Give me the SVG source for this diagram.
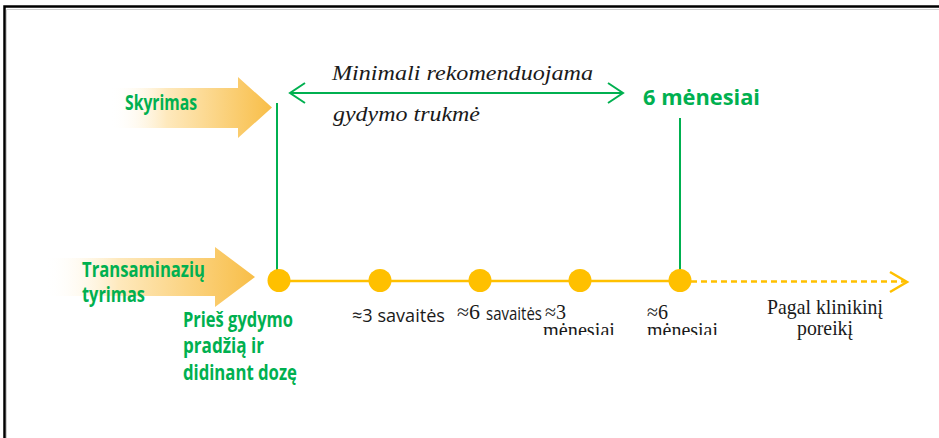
<svg xmlns="http://www.w3.org/2000/svg" width="939" height="438" viewBox="0 0 939 438">
  <style>
    .lbl-green { font-family: "Open Sans", "Noto Sans", sans-serif; font-weight: bold; font-size: 21.5px; fill: #00B050; }
    .lbl-sans { font-family: "Open Sans", "Noto Sans", sans-serif; font-size: 19px; fill: #1a1a1a; }
    .lbl-serif { font-family: "Liberation Serif", "Times New Roman", serif; font-size: 21px; fill: #1a1a1a; }
    .lbl-italic { font-family: "Liberation Serif", "Times New Roman", serif; font-style: italic; font-size: 22px; fill: #1a1a1a; }
    .green-line { stroke: #00B050; stroke-width: 2; fill: none; }
    .yellow-line { stroke: #FFC000; stroke-width: 2.5; fill: none; }
    .dot { fill: #FFC000; }
    .block-arrow { fill: url(#fadeArrow); }
  </style>
  <defs>
    <linearGradient id="fadeArrow" x1="0" y1="0" x2="1" y2="0">
      <stop offset="0" stop-color="#FFFFFF" stop-opacity="0"/>
      <stop offset="0.35" stop-color="#FEE9BD"/>
      <stop offset="1" stop-color="#F8BE48"/>
    </linearGradient>
    <!-- the month labels are cut off just below their x-height -->
    <clipPath id="cutBottom">
      <rect x="500" y="290" width="260" height="45"/>
    </clipPath>
  </defs>

  <rect width="939" height="438" fill="#FFFFFF"/>

  <!-- frame -->
  <path d="M4.5,438 V6.5 H939" fill="none" stroke="#000000" stroke-width="2.5"/>
  <path d="M6.5,438 V9.5 H939" fill="none" stroke="#CFCFCF" stroke-width="1"/>

  <!-- block arrow: Skyrimas -->
  <g id="skyrimas">
    <polygon class="block-arrow" points="110,88 238,88 238,77 272,107.5 238,138 238,128 110,128"/>
    <text class="lbl-green" x="125" y="110" textLength="72" lengthAdjust="spacingAndGlyphs">Skyrimas</text>
  </g>

  <!-- block arrow: Transaminaziu tyrimas -->
  <g id="transaminaziu">
    <polygon class="block-arrow" points="45,258 215,258 215,247 255,277 215,307 215,296 45,296"/>
    <text class="lbl-green" x="82" y="277" textLength="123" lengthAdjust="spacingAndGlyphs">Transaminazių</text>
    <text class="lbl-green" x="82" y="302" textLength="63" lengthAdjust="spacingAndGlyphs">tyrimas</text>
  </g>

  <!-- treatment duration label -->
  <g id="trukme">
    <text class="lbl-italic" x="332" y="80" textLength="261" lengthAdjust="spacingAndGlyphs">Minimali rekomenduojama</text>
    <text class="lbl-italic" x="333" y="121" textLength="147" lengthAdjust="spacingAndGlyphs">gydymo trukmė</text>
  </g>

  <g id="sesi-menesiai">
    <text class="lbl-green" x="643" y="105" textLength="117" lengthAdjust="spacingAndGlyphs">6 mėnesiai</text>
  </g>

  <!-- connectors -->
  <g id="connectors">
    <!-- duration arrow -->
    <line class="green-line" x1="290" y1="93" x2="623" y2="93"/>
    <polyline class="green-line" points="305,83 290,93 305,103"/>
    <polyline class="green-line" points="608,83 623,93 608,103"/>
    <!-- verticals down to the timeline -->
    <line class="green-line" x1="277" y1="103" x2="277" y2="280"/>
    <line class="green-line" x1="680" y1="118" x2="680" y2="280"/>
    <!-- timeline -->
    <line class="yellow-line" x1="279" y1="281" x2="680" y2="281"/>
    <line class="yellow-line" x1="691" y1="281.5" x2="905" y2="281.5" stroke-dasharray="6,4" stroke-width="2"/>
    <polyline class="yellow-line" points="890,272 907,282 890,292" stroke-width="2"/>
  </g>

  <!-- timeline points -->
  <g id="t0">
    <circle class="dot" cx="279" cy="280.5" r="11.5"/>
    <text class="lbl-green" x="183" y="327" textLength="110" lengthAdjust="spacingAndGlyphs">Prieš gydymo</text>
    <text class="lbl-green" x="183" y="353" textLength="81" lengthAdjust="spacingAndGlyphs">pradžią ir</text>
    <text class="lbl-green" x="183" y="380" textLength="114" lengthAdjust="spacingAndGlyphs">didinant dozę</text>
  </g>
  <g id="t3w">
    <circle class="dot" cx="380" cy="280.5" r="11.5"/>
    <text class="lbl-sans" x="352" y="322" textLength="93" lengthAdjust="spacingAndGlyphs">≈3 savaitės</text>
  </g>
  <g id="t6w">
    <circle class="dot" cx="480" cy="280.5" r="11.5"/>
    <text class="lbl-serif" x="457" y="319" textLength="23" lengthAdjust="spacingAndGlyphs">≈6</text>
    <text class="lbl-sans" x="486" y="320" textLength="56" lengthAdjust="spacingAndGlyphs">savaitės</text>
  </g>
  <g id="t3m">
    <circle class="dot" cx="580" cy="280.5" r="11.5"/>
    <text class="lbl-serif" clip-path="url(#cutBottom)"><tspan x="545" y="319" textLength="21" lengthAdjust="spacingAndGlyphs">≈3</tspan><tspan x="543" y="337" textLength="72" lengthAdjust="spacingAndGlyphs">mėnesiai</tspan></text>
  </g>
  <g id="t6m">
    <circle class="dot" cx="680" cy="280.5" r="11.5"/>
    <text class="lbl-serif" clip-path="url(#cutBottom)"><tspan x="647" y="319" textLength="21" lengthAdjust="spacingAndGlyphs">≈6</tspan><tspan x="647" y="337" textLength="71" lengthAdjust="spacingAndGlyphs">mėnesiai</tspan></text>
  </g>
  <g id="pagal-poreiki">
    <text class="lbl-serif" x="767" y="314" font-size="23" textLength="116" lengthAdjust="spacingAndGlyphs">Pagal klinikinį</text>
    <text class="lbl-serif" x="797" y="335" font-size="23" textLength="56" lengthAdjust="spacingAndGlyphs">poreikį</text>
  </g>
</svg>
